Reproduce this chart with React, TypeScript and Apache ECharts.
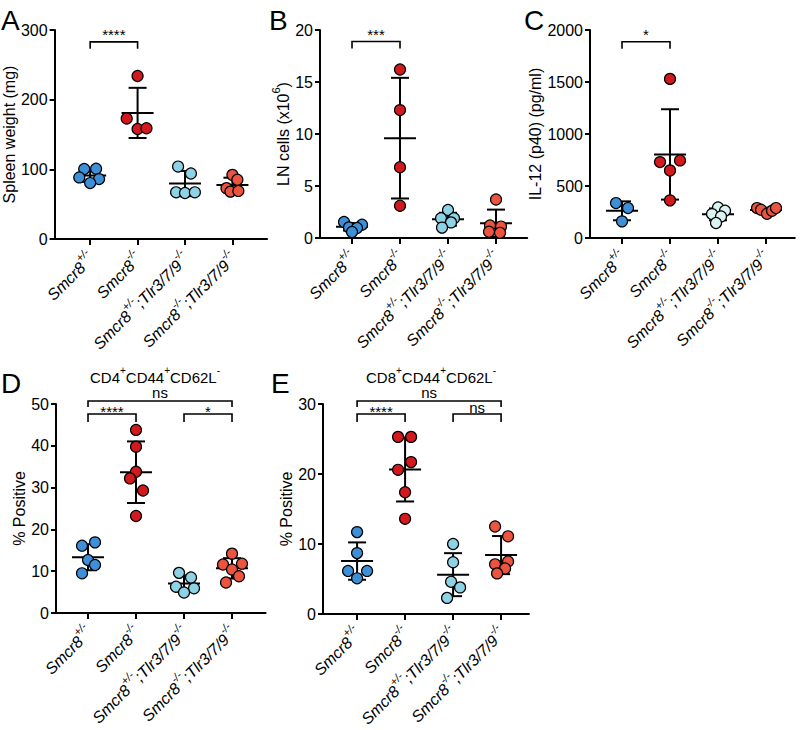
import React, { useEffect, useRef } from 'react';
import * as echarts from 'echarts';

const FONT = '"Liberation Sans", Arial, Helvetica, sans-serif';

// ---- categories (genotypes) ----
const categories = ['Smcr8+/-', 'Smcr8-/-', 'Smcr8+/-;Tlr3/7/9-/-', 'Smcr8-/-;Tlr3/7/9-/-'];
const categoryRich = [
  '{i|Smcr8}{s|+/-}',
  '{i|Smcr8}{s|-/-}',
  '{i|Smcr8}{s|+/-}{i|;Tlr3/7/9}{s|-/-}',
  '{i|Smcr8}{s|-/-}{i|;Tlr3/7/9}{s|-/-}',
];

// ---- A: spleen weight (mg) ----
const spleenHet = [100.5, 100.8, 88.4, 86.0, 80.3];
const spleenKO = [234, 173, 158, 159];
const spleenHetTlr = [104, 94, 67, 66, 67];
const spleenKOTlr = [92, 85, 73, 68, 69];

// ---- B: LN cells (x10^6) ----
const lnHet = [1.54, 1.28, 1.02, 0.96, 0.58];
const lnKO = [16.2, 12.3, 6.8, 3.1];
const lnHetTlr = [2.7, 1.9, 1.9, 1.5, 1.0];
const lnKOTlr = [3.7, 1.2, 1.1, 0.6, 0.5];

// ---- C: IL-12 (p40) (pg/ml) ----
const il12Het = [336, 288, 160];
const il12KO = [1530, 730, 746, 650, 362];
const il12HetTlr = [294, 262, 230, 207, 144];
const il12KOTlr = [288, 272, 233, 262, 288];

// ---- D: CD4+CD44+CD62L- % positive ----
const cd4Het = [16.1, 16.9, 12.7, 11.5, 9.5];
const cd4KO = [43.8, 39.8, 33.8, 32.2, 29.3, 23.2];
const cd4HetTlr = [9.6, 8.5, 6.3, 5.9, 4.9];
const cd4KOTlr = [14.2, 11.6, 11.8, 10.4, 8.8, 7.3];

// ---- E: CD8+CD44+CD62L- % positive ----
const cd8Het = [11.7, 8.7, 6.15, 6.15, 5.1];
const cd8KO = [25.3, 25.3, 21.7, 20.6, 17.4, 13.6];
const cd8HetTlr = [10.0, 7.4, 4.6, 3.8, 2.3];
const cd8KOTlr = [12.5, 11.1, 7.5, 7.1, 6.5, 5.8];

// ---- y ticks ----
const ticksA = [0, 100, 200, 300];
const ticksB = [0, 5, 10, 15, 20];
const ticksC = [0, 500, 1000, 1500, 2000];
const ticksD = [0, 10, 20, 30, 40, 50];
const ticksE = [0, 10, 20, 30];

// ---- significance labels ----
const sigA = ['****'];
const sigB = ['***'];
const sigC = ['*'];
const sigD = ['ns', '****', '*'];
const sigE = ['ns', '****', 'ns'];

// ---- layout (pixels), not data ----
const CAT_PX = 48;
const jitterA = [[-6, 6, -11, 9, 0], [0, -11, 0, 9], [-7, 6, -9, 0, 10], [0, 5, -6, -2, 6]];
const jitterB = [[-8, 10, -3, 5, 0], [0, 0, 0, 0], [0, -7, 6, 3, -6], [0, -6, 5, -7, 4]];
const jitterC = [[-6, 6, 0], [0, -10, 10, 0, 0], [0, 7, -6, 3, -2], [-9, -5, 1, 6, 10]];
const jitterD = [[-6, 7, 0, 7, -6], [0, 0, 0, -6, 7, 0], [-5, 7, -8, 10, 0], [0, -9, 10, 0, 7, -6]];
const jitterE = [[0, 0, -9, 10, 0], [-7, 6, 6, -7, 0, 0], [0, 0, -2, 7, -6], [-6, 7, 7, -6, 4, -4]];

const BLUE = '#3d8fd8';
const DARKRED = '#d2191e';
const LIGHTBLUE = '#8ed2e6';
const PALECYAN = '#d9f4f2';
const ORANGE = '#ec5440';

const panels = [
  {
    groups: [spleenHet, spleenKO, spleenHetTlr, spleenKOTlr], jitter: jitterA,
    colors: [BLUE, DARKRED, LIGHTBLUE, ORANGE], ticks: ticksA,
    name: '{n|Spleen weight (mg)}', nameGap: 31,
    left: 52, top: 30, height: 209, xMin: 0.25, xMax: 4.73,
    brackets: [[1, 2, 283, -7, 7]], sig: sigA,
  },
  {
    groups: [lnHet, lnKO, lnHetTlr, lnKOTlr], jitter: jitterB,
    colors: [BLUE, DARKRED, LIGHTBLUE, ORANGE], ticks: ticksB,
    name: '{n|LN cells (x10}{s|6}{n|)}', nameGap: 26,
    left: 320, top: 30, height: 208, xMin: 0.333, xMax: 4.65,
    brackets: [[1, 2, 18.9, -7, 7]], sig: sigB,
  },
  {
    groups: [il12Het, il12KO, il12HetTlr, il12KOTlr], jitter: jitterC,
    colors: [BLUE, DARKRED, PALECYAN, ORANGE], ticks: ticksC,
    name: '{n|IL-12 (p40) (pg/ml)}', nameGap: 43,
    left: 590, top: 30, height: 208, xMin: 0.333, xMax: 4.6,
    brackets: [[1, 2, 1887, -7, 7]], sig: sigC,
  },
  {
    groups: [cd4Het, cd4KO, cd4HetTlr, cd4KOTlr], jitter: jitterD,
    colors: [BLUE, DARKRED, LIGHTBLUE, ORANGE], ticks: ticksD,
    name: '{n|% Positive}', nameGap: 25,
    left: 56, top: 404, height: 209, xMin: 0.333, xMax: 4.7,
    brackets: [[1, 4, 50.72, -8, 6], [1, 2, 47.6, -3, 8], [3, 4, 47.6, -3, 8]], sig: sigD,
  },
  {
    groups: [cd8Het, cd8KO, cd8HetTlr, cd8KOTlr], jitter: jitterE,
    colors: [BLUE, DARKRED, LIGHTBLUE, ORANGE], ticks: ticksE,
    name: '{n|% Positive}', nameGap: 26,
    left: 323, top: 404, height: 210, xMin: 0.29, xMax: 4.58,
    brackets: [[1, 4, 30.43, -8, 6], [1, 2, 28.57, -3, 8], [3, 4, 28.57, -7, 8]], sig: sigE,
  },
];

function meanSd(v: number[]) {
  const m = v.reduce((a, b) => a + b, 0) / v.length;
  const sd = Math.sqrt(v.reduce((a, b) => a + (b - m) * (b - m), 0) / (v.length - 1));
  return [m, sd];
}

const richName = {
  n: { fontSize: 16, fontFamily: FONT, color: '#000', lineHeight: 21, verticalAlign: 'bottom' },
  s: { fontSize: 11, fontFamily: FONT, color: '#000', lineHeight: 11, verticalAlign: 'top' },
};
const richCat = {
  i: { fontSize: 16, fontStyle: 'italic', fontFamily: FONT, color: '#000', lineHeight: 21, verticalAlign: 'bottom' },
  s: { fontSize: 11, fontStyle: 'italic', fontFamily: FONT, color: '#000', lineHeight: 11, verticalAlign: 'top' },
};

function buildOption() {
  const grid: any[] = [];
  const xAxis: any[] = [];
  const yAxis: any[] = [];
  const series: any[] = [];
  panels.forEach((p, pi) => {
    const width = (p.xMax - p.xMin) * CAT_PX;
    grid.push({ left: p.left, top: p.top, width, height: p.height, containLabel: false });
    xAxis.push({
      type: 'value', gridIndex: pi, min: p.xMin, max: p.xMax,
      axisLine: { show: true, onZero: false, lineStyle: { color: '#000', width: 2 } },
      axisTick: { show: true, length: 6, lineStyle: { color: '#000', width: 2 }, customValues: [1, 2, 3, 4] },
      axisLabel: {
        customValues: [1, 2, 3, 4], rotate: 45, margin: 15,
        formatter: (v: number) => categoryRich[Math.round(v) - 1] || '',
        rich: richCat,
      },
      splitLine: { show: false },
    });
    const yMax = p.ticks[p.ticks.length - 1];
    yAxis.push({
      type: 'value', gridIndex: pi, min: 0, max: yMax, interval: p.ticks[1] - p.ticks[0],
      axisLine: { show: true, onZero: false, lineStyle: { color: '#000', width: 2 } },
      axisTick: { show: true, length: 5, lineStyle: { color: '#000', width: 2 } },
      axisLabel: {
        color: '#000', fontSize: 16, fontFamily: FONT, margin: 7,
        formatter: (v: number) => String(v),
      },
      splitLine: { show: false },
      name: p.name, nameLocation: 'middle', nameGap: p.nameGap, nameRotate: 90,
      nameTextStyle: { rich: richName, fontSize: 16, fontFamily: FONT, color: '#000' },
    });

    // error bars (mean ± SD)
    const ebData = p.groups.map((g, gi) => {
      const [m, sd] = meanSd(g);
      return [gi + 1, m, m - sd, m + sd];
    });
    series.push({
      type: 'custom', xAxisIndex: pi, yAxisIndex: pi, silent: true, z: 2, clip: false,
      encode: { x: 0, y: [1, 2, 3] },
      data: ebData,
      renderItem: (params: any, api: any) => {
        const x = api.value(0);
        const pm = api.coord([x, api.value(1)]);
        const pl = api.coord([x, api.value(2)]);
        const ph = api.coord([x, api.value(3)]);
        const st = { stroke: '#000', lineWidth: 2 };
        return {
          type: 'group',
          children: [
            { type: 'line', shape: { x1: pm[0], y1: pl[1], x2: pm[0], y2: ph[1] }, style: st },
            { type: 'line', shape: { x1: pm[0] - 9, y1: pl[1], x2: pm[0] + 9, y2: pl[1] }, style: st },
            { type: 'line', shape: { x1: pm[0] - 9, y1: ph[1], x2: pm[0] + 9, y2: ph[1] }, style: st },
            { type: 'line', shape: { x1: pm[0] - 16, y1: pm[1], x2: pm[0] + 16, y2: pm[1] }, style: st },
          ],
        };
      },
    });

    // dots
    p.groups.forEach((g, gi) => {
      series.push({
        type: 'scatter', xAxisIndex: pi, yAxisIndex: pi, z: 3, silent: true,
        symbol: 'circle', symbolSize: 11,
        itemStyle: { color: p.colors[gi], borderColor: '#000', borderWidth: 1.2, opacity: 1 },
        data: g.map((v, k) => [gi + 1 + (p.jitter[gi][k] || 0) / CAT_PX, v]),
      });
    });

    // significance brackets
    const sig = p.sig;
    series.push({
      type: 'custom', xAxisIndex: pi, yAxisIndex: pi, silent: true, z: 4, clip: false,
      encode: { x: [0, 1], y: 2 },
      data: p.brackets,
      renderItem: (params: any, api: any) => {
        const a = api.coord([api.value(0), api.value(2)]);
        const b = api.coord([api.value(1), api.value(2)]);
        const dy = api.value(3);
        const tl = api.value(4);
        const st = { stroke: '#000', lineWidth: 1.6, fill: 'none' };
        return {
          type: 'group',
          children: [
            { type: 'polyline', shape: { points: [[a[0], a[1] + tl], [a[0], a[1]], [b[0], b[1]], [b[0], b[1] + tl]] }, style: st },
            {
              type: 'text', x: (a[0] + b[0]) / 2, y: a[1] + dy,
              style: {
                text: sig[params.dataIndex], fontSize: 15, fontFamily: FONT, fill: '#000',
                align: 'center', verticalAlign: 'middle', textAlign: 'center', textVerticalAlign: 'middle',
              },
            },
          ],
        };
      },
    });
  });

  const letter = (t: string, x: number, y: number) => ({
    type: 'text', left: x, top: y,
    style: { text: t, fontSize: 28, fontFamily: FONT, fill: '#000' },
  });
  const titleRich = {
    n: { fontSize: 15, fontFamily: FONT, color: '#000', lineHeight: 20, verticalAlign: 'bottom' },
    s: { fontSize: 10, fontFamily: FONT, color: '#000', lineHeight: 10, verticalAlign: 'top' },
  };
  const graphic = [
    letter('A', 1, 6),
    letter('B', 269, 6),
    letter('C', 524, 6),
    letter('D', 1, 369),
    letter('E', 271, 369),
    {
      type: 'text', x: 155, y: 375,
      style: {
        text: '{n|CD4}{s|+}{n|CD44}{s|+}{n|CD62L}{s|-}', rich: titleRich,
        align: 'center', verticalAlign: 'middle', textAlign: 'center', textVerticalAlign: 'middle',
      },
    },
    {
      type: 'text', x: 431, y: 375,
      style: {
        text: '{n|CD8}{s|+}{n|CD44}{s|+}{n|CD62L}{s|-}', rich: titleRich,
        align: 'center', verticalAlign: 'middle', textAlign: 'center', textVerticalAlign: 'middle',
      },
    },
  ];

  return {
    animation: false,
    backgroundColor: '#fff',
    textStyle: { fontFamily: FONT },
    grid, xAxis, yAxis, series, graphic,
  };
}

export default function App() {
  const ref = useRef<HTMLDivElement>(null);
  useEffect(() => {
    if (!ref.current) return;
    const chart = echarts.init(ref.current, undefined, { renderer: 'svg' });
    chart.setOption(buildOption() as any);
    return () => chart.dispose();
  }, []);
  return (
    <div
      ref={ref}
      style={{ position: 'fixed', left: 0, top: 0, width: 800, height: 730, background: '#fff' }}
    />
  );
}
